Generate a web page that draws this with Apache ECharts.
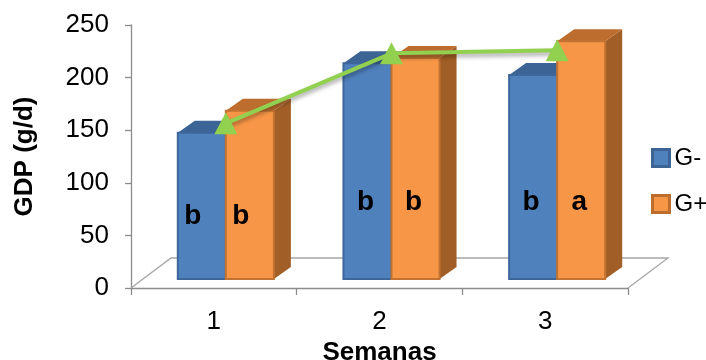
<!DOCTYPE html>
<html>
<head>
<meta charset="utf-8">
<title>GDP (g/d) por semana</title>
<script src="https://cdn.jsdelivr.net/npm/echarts@6/dist/echarts.min.js"></script>
<style>
  html, body { margin: 0; padding: 0; background: #ffffff; }
  #chart { width: 706px; height: 360px; }
</style>
</head>
<body>
<div id="chart"></div>
<script>
// Weeks and average daily gain per group
var semanas = ['1', '2', '3'];
var gMenos = [139, 205, 194];
var gMas = [160, 210, 226];
// Significance letters shown on each bar
var letrasMenos = ['b', 'b', 'b'];
var letrasMas = ['b', 'b', 'a'];
// Trend line drawn over the bars
var tendencia = [148, 214.5, 217.5];
var yTicks = { min: 0, max: 250, interval: 50 };

// Drawing constants for the pseudo-3D look
var FONT = '"Liberation Sans", Arial, sans-serif';
var BAR_FRAC = 0.29;          // share of a category taken by one bar
var BAR_DX = 17, BAR_DY = 12; // bar depth (pixels)
var FLOOR_DX = 40, FLOOR_DY = 30;
var LETTER_LEVEL = [60, 73, 73]; // height (axis units) of the letters
var LETTER_SHIFT = [-9, -2, -2]; // horizontal nudge of the letters (px)

var palette = {
  menos: { front: '#4F81BD', top: '#3C6494', side: '#34587F', border: '#3D679A' },
  mas:   { front: '#F79646', top: '#BD6E2F', side: '#A15E26', border: '#C27332' }
};

function barRenderer(side, colors, letters) {
  return function (params, api) {
    var cat = api.value(0);
    var val = api.value(1);
    var base = api.coord([cat, 0]);
    var top = api.coord([cat, val]);
    var bw = api.size([1, 0])[0] * BAR_FRAC;
    var x0 = side < 0 ? base[0] - bw : base[0];
    var x1 = x0 + bw;
    var yb = base[1], yt = top[1];
    var i = params.dataIndex;
    var ly = api.coord([cat, LETTER_LEVEL[i]])[1];
    return {
      type: 'group',
      children: [
        { type: 'polygon',
          shape: { points: [[x1, yt], [x1 + BAR_DX, yt - BAR_DY], [x1 + BAR_DX, yb - BAR_DY], [x1, yb]] },
          style: { fill: colors.side } },
        { type: 'polygon',
          shape: { points: [[x0, yt], [x0 + BAR_DX, yt - BAR_DY], [x1 + BAR_DX, yt - BAR_DY], [x1, yt]] },
          style: { fill: colors.top } },
        { type: 'rect',
          shape: { x: x0, y: yt, width: bw, height: yb - yt },
          style: { fill: colors.front, stroke: colors.border, lineWidth: 2 } },
        { type: 'text',
          style: { x: x0 + bw / 2 + LETTER_SHIFT[i], y: ly, text: letters[i],
                   fill: '#000000', font: 'bold 28px ' + FONT,
                   textAlign: 'center', textVerticalAlign: 'middle' } }
      ]
    };
  };
}

function floorRenderer(params, api) {
  var cs = params.coordSys;
  var x0 = cs.x, x1 = cs.x + cs.width, y = cs.y + cs.height;
  return {
    type: 'polyline',
    shape: { points: [[x0, y], [x0 + FLOOR_DX, y - FLOOR_DY], [x1 + FLOOR_DX, y - FLOOR_DY], [x1, y]] },
    style: { stroke: '#A6A6A6', lineWidth: 1.3, fill: null },
    silent: true
  };
}

var chart = echarts.init(document.getElementById('chart'), null, { renderer: 'canvas' });

var option = {
  backgroundColor: '#ffffff',
  animation: false,
  textStyle: { fontFamily: FONT },
  legend: {
    orient: 'vertical',
    left: 646,
    top: 141,
    itemWidth: 17,
    itemHeight: 17,
    itemGap: 22,
    icon: 'rect',
    textStyle: { fontSize: 24, color: '#000000', fontFamily: FONT },
    data: [
      { name: 'G-', itemStyle: { color: palette.menos.front, borderColor: palette.menos.top, borderWidth: 3 } },
      { name: 'G+', itemStyle: { color: palette.mas.front, borderColor: palette.mas.top, borderWidth: 3 } }
    ]
  },
  grid: [
    { left: 131, right: 78, top: 25, bottom: 72, containLabel: false, outerBoundsMode: 'none' },
    { left: 131 + 12, right: 78 - 12, top: 25 - 9, bottom: 72 + 9, containLabel: false, outerBoundsMode: 'none' }
  ],
  xAxis: [
    {
      type: 'category', gridIndex: 0, data: semanas, boundaryGap: true,
      name: 'Semanas', nameLocation: 'middle', nameGap: 47,
      nameTextStyle: { fontSize: 26, fontWeight: 'bold', color: '#000000', fontFamily: FONT },
      axisLine: { lineStyle: { color: '#8C8C8C', width: 1.3 } },
      axisTick: { show: true, length: 7, lineStyle: { color: '#8C8C8C', width: 1.3 } },
      axisLabel: { fontSize: 26, color: '#000000', margin: 21, fontFamily: FONT },
      splitLine: { show: false }
    },
    { type: 'category', gridIndex: 1, data: semanas, boundaryGap: true, show: false }
  ],
  yAxis: [
    {
      type: 'value', gridIndex: 0, min: yTicks.min, max: yTicks.max, interval: yTicks.interval,
      name: 'GDP (g/d)', nameLocation: 'middle', nameGap: 93, nameRotate: 90,
      nameTextStyle: { fontSize: 26, fontWeight: 'bold', color: '#000000', fontFamily: FONT },
      axisLine: { show: true, lineStyle: { color: '#8C8C8C', width: 1.3 } },
      axisTick: { show: true, length: 6, lineStyle: { color: '#8C8C8C', width: 1.3 } },
      axisLabel: { fontSize: 26, color: '#000000', margin: 22, fontFamily: FONT },
      splitLine: { show: false }
    },
    { type: 'value', gridIndex: 1, min: yTicks.min, max: yTicks.max, interval: yTicks.interval, show: false }
  ],
  series: [
    {
      type: 'custom', name: 'floor', xAxisIndex: 0, yAxisIndex: 0,
      renderItem: floorRenderer, data: [[0, 0]], silent: true, z: 1
    },
    {
      type: 'custom', name: 'G-', xAxisIndex: 1, yAxisIndex: 1,
      itemStyle: { color: palette.menos.front },
      renderItem: barRenderer(-1, palette.menos, letrasMenos),
      data: gMenos.map(function (v, i) { return [i, v]; }), z: 2
    },
    {
      type: 'custom', name: 'G+', xAxisIndex: 1, yAxisIndex: 1,
      itemStyle: { color: palette.mas.front },
      renderItem: barRenderer(1, palette.mas, letrasMas),
      data: gMas.map(function (v, i) { return [i, v]; }), z: 3
    },
    {
      type: 'line', name: 'tendencia', xAxisIndex: 1, yAxisIndex: 1,
      data: tendencia, symbol: 'triangle', symbolSize: [23, 22], showSymbol: true,
      itemStyle: { color: '#92D050' },
      lineStyle: { color: '#92D050', width: 4, shadowColor: 'rgba(0,0,0,0.35)', shadowBlur: 4, shadowOffsetY: 3 },
      z: 5
    }
  ]
};

chart.setOption(option);
</script>
</body>
</html>
